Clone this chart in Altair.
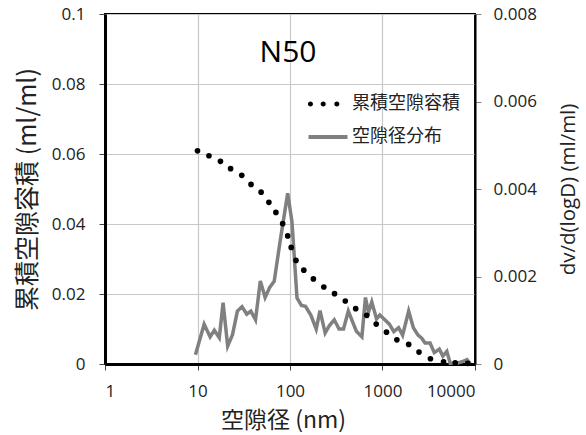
import altair as alt
import pandas as pd

# ---- data ----
series = ["累積空隙容積", "空隙径分布"]

cum_d = [10, 13.3, 17.7, 22.8, 30.1, 37.9, 48.7, 59.1, 70.4, 83.3, 94.4, 103, 116, 141, 179,
         232, 303, 396, 513, 675, 855, 1104, 1430, 1918, 2482, 3298, 4571, 6109, 8334]
cum_v = [0.0609, 0.0595, 0.0579, 0.0558, 0.0539, 0.0513, 0.0491, 0.0462, 0.0433, 0.0401,
         0.0366, 0.0333, 0.0296, 0.0268, 0.0243, 0.0220, 0.0201, 0.0180, 0.0158, 0.0139,
         0.0114, 0.0091, 0.0069, 0.0056, 0.0034, 0.0015, 0.0006, 0.0003, 0.0002]

dist_d = [9.5, 11.8, 13.7, 15.2, 17.2, 18.9, 21.2, 23.9, 27.0, 30.3, 34.1, 37.7, 42.4, 47.8,
          53.8, 60.3, 67.5, 78.5, 94.4, 105, 119, 133, 147, 168, 192, 211, 240, 267, 301,
          339, 379, 427, 480, 522, 599, 654, 705, 766, 861, 935, 1060, 1186, 1325, 1493,
          1650, 1918, 2157, 2421, 2655, 2884, 3268, 3631, 4115, 4490, 4963, 5395, 6365,
          7220, 8185, 8890]
dist_v = [0.00021, 0.00091, 0.00062, 0.00077, 0.00060, 0.00140, 0.00041, 0.00067, 0.00121,
          0.00131, 0.00114, 0.00121, 0.00101, 0.00190, 0.00152, 0.00175, 0.00189, 0.00283,
          0.00390, 0.00325, 0.00151, 0.00134, 0.00132, 0.00112, 0.00080, 0.00122, 0.00071,
          0.00088, 0.00101, 0.00080, 0.00080, 0.00121, 0.00094, 0.00075, 0.00062, 0.00152,
          0.00118, 0.00142, 0.00103, 0.00112, 0.00101, 0.00091, 0.00074, 0.00083, 0.00066,
          0.00121, 0.00083, 0.00066, 0.00059, 0.00048, 0.00048, 0.00026, 0.00034, 0.00018,
          0.00029, 0.00002, 0.00002, 0.00005, 0.00010, 0.00001]

x_ticks = [1, 10, 100, 1000, 10000]
left_ticks = [0, 0.02, 0.04, 0.06, 0.08, 0.1]
right_ticks = [0, 0.002, 0.004, 0.006, 0.008]
chart_title = ["N50"]

df_cum = pd.DataFrame({"d": cum_d, "v": cum_v})
df_dist = pd.DataFrame({"d": dist_d, "v": dist_v})
df_leg = pd.DataFrame({"s": series})
df_title = pd.DataFrame({"t": chart_title})

CJK = "Noto Sans CJK JP"
LAT = "Open Sans"
TXT = "#222222"


def circle(cx, r):
    return (f"M{cx - r},0 A{r},{r} 0 1,0 {cx + r},0 A{r},{r} 0 1,0 {cx - r},0 Z ")


DOT_PATH = circle(-1.17, 0.17) + circle(-0.32, 0.17) + circle(0.59, 0.17)
LINE_PATH = "M-1.3,-0.13 L1.3,-0.13 L1.3,0.13 L-1.3,0.13 Z"

xscale = alt.Scale(type="log", domain=[1, 10000])
x_enc = alt.X(
    "d:Q", scale=xscale,
    axis=alt.Axis(values=x_ticks, format="d", title="空隙径 (nm)", grid=True,
                  gridColor="#c8c8c8", gridWidth=1.2,
                  labelFont=LAT, labelFontSize=17, labelColor=TXT, labelPadding=13,
                  tickSize=6, tickColor="#444", domainColor="black", domainWidth=3,
                  titleFont=CJK, titleFontSize=23, titleFontWeight="normal",
                  titleColor=TXT, titleX=178, titleY=56, titleBaseline="middle",
                  titleAlign="center"),
)

points = alt.Chart(df_cum).mark_point(filled=True, size=32, opacity=1, color="black",
                                      shape="circle").encode(
    x=x_enc,
    y=alt.Y("v:Q", scale=alt.Scale(domain=[0, 0.1]),
            axis=alt.Axis(values=left_ticks, format="~g", title="累積空隙容積 (ml/ml)",
                          grid=True, gridColor="#c8c8c8", gridWidth=1.2,
                          labelFont=LAT, labelFontSize=17, labelColor=TXT, labelPadding=14,
                          tickSize=6, tickColor="#444", domainColor="black", domainWidth=3,
                          titleFont=CJK, titleFontSize=25, titleFontWeight="normal",
                          titleColor=TXT, titleAngle=270, titleX=-78, titleY=175,
                          titleBaseline="middle", titleAlign="center")),
)

line = alt.Chart(df_dist).mark_line(color="#808080", strokeWidth=3.5).encode(
    x=alt.X("d:Q", scale=xscale),
    y=alt.Y("v:Q", scale=alt.Scale(domain=[0, 0.008]),
            axis=alt.Axis(orient="right", values=right_ticks, format="~g",
                          title="dv/d(logD) (ml/ml)", grid=False,
                          labelFont=LAT, labelFontSize=17, labelColor=TXT, labelPadding=12,
                          tickSize=6, tickColor="#888", domainColor="black", domainWidth=2,
                          titleFont=LAT, titleFontSize=20.5, titleFontWeight="normal",
                          titleColor=TXT, titleAngle=270, titleX=93, titleY=175,
                          titleBaseline="middle", titleAlign="center")),
)

# legend-only layer (its own marks sit off-canvas; only the legend is visible)
legend_layer = alt.Chart(df_leg).mark_point(filled=True, size=30, opacity=1).encode(
    x=alt.value(-600), y=alt.value(-600),
    color=alt.Color("s:N", scale=alt.Scale(domain=series, range=["#000000", "#808080"]),
                    legend=alt.Legend(orient="none", legendX=208, legendY=75, title=None,
                                      padding=0, rowPadding=9, symbolSize=900,
                                      labelOffset=9, labelFont=CJK, labelFontSize=18,
                                      labelColor=TXT, symbolStrokeWidth=0,
                                      symbolOpacity=1)),
    shape=alt.Shape("s:N", scale=alt.Scale(domain=series, range=[DOT_PATH, LINE_PATH])),
)

title = alt.Chart(df_title).mark_text(font=LAT, fontSize=30, color="black",
                                      baseline="alphabetic", align="center").encode(
    text="t:N", x=alt.value(183), y=alt.value(48)
)

chart = alt.layer(line, points, legend_layer, title).resolve_scale(y="independent").properties(
    width=370, height=350,
    padding={"left": 105, "top": 14, "right": 111, "bottom": 71},
    autosize=alt.AutoSizeParams(type="none"),
).configure_view(stroke="black", strokeWidth=2)

chart.save("out.html", embed_options={"renderer": "svg", "actions": False})
